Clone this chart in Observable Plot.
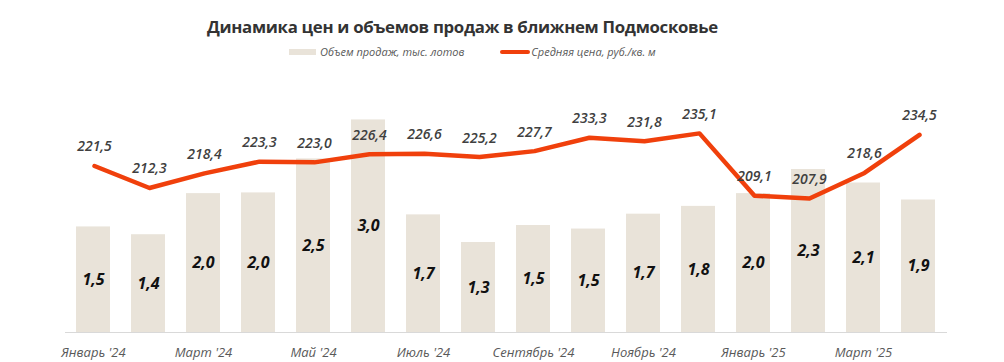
<!DOCTYPE html>
<html>
<head>
<meta charset="utf-8">
<script src="https://cdn.jsdelivr.net/npm/d3@7"></script>
<script src="https://cdn.jsdelivr.net/npm/@observablehq/plot@0.6"></script>
<style>
  html, body { margin: 0; padding: 0; background: #fff; }
  #wrap { position: relative; width: 1004px; height: 362px; font-family: "Open Sans", sans-serif; overflow: hidden; }
  #title { position: absolute; left: 0; width: 925px; top: 15px; text-align: center; font-size: 16.8px; letter-spacing: -0.3px; font-weight: 700; color: #333; white-space: nowrap; }
  #legend { position: absolute; top: 44px; left: 289px; font-size: 11px; font-style: italic; color: #595959; white-space: nowrap; display: flex; align-items: center; }
  .sw-bar { display: inline-block; width: 27px; height: 6px; background: #E9E3D9; margin-right: 4px; }
  .sw-line { display: inline-block; width: 30px; height: 4px; border-radius: 2px; background: #F0400C; margin-left: 36px; margin-right: 1px; }
  .layer { position: absolute; left: 0; top: 0; }
  .layer svg { background: transparent !important; }
  g[aria-label="x-axis tick label"] text { font-style: italic; }
</style>
</head>
<body>
<div id="wrap">
  <div id="title">Динамика цен и объемов продаж в ближнем Подмосковье</div>
  <div id="legend"><span class="sw-bar"></span><span>Объем продаж, тыс. лотов</span><span class="sw-line"></span><span>Средняя цена, руб./кв. м</span></div>
  <div id="bars" class="layer"></div>
  <div id="line" class="layer"></div>
</div>
<script>
const months = ["Январь '24", "Февраль '24", "Март '24", "Апрель '24", "Май '24", "Июнь '24", "Июль '24", "Август '24", "Сентябрь '24", "Октябрь '24", "Ноябрь '24", "Декабрь '24", "Январь '25", "Февраль '25", "Март '25", "Апрель '25"];
const tickLabels = ["Январь '24", "Март '24", "Май '24", "Июль '24", "Сентябрь '24", "Ноябрь '24", "Январь '25", "Март '25"];
const volume = [1.49, 1.38, 1.96, 1.97, 2.45, 3.0, 1.66, 1.27, 1.51, 1.46, 1.67, 1.78, 1.96, 2.30, 2.11, 1.87];
const price = [221.5, 212.3, 218.4, 223.3, 223.0, 226.4, 226.6, 225.2, 227.7, 233.3, 231.8, 235.1, 209.1, 207.9, 218.6, 234.5];

const volData = months.map((m, i) => ({ month: m, v: volume[i] }));
const priceData = months.map((m, i) => ({ month: m, p: price[i] }));
const fmt = v => (Math.round(v * 10) / 10).toFixed(1).replace(".", ",");

const common = {
  width: 1004, height: 362,
  marginLeft: 65, marginRight: 57, marginTop: 84, marginBottom: 30,
  style: { fontFamily: "Open Sans, sans-serif", background: "transparent", overflow: "visible" },
  x: { domain: months, paddingInner: 0.38, paddingOuter: 0.19, axis: null }
};

const barPlot = Plot.plot({
  ...common,
  y: { domain: [0, 3.5], axis: null },
  marks: [
    Plot.barY(volData, { x: "month", y: "v", fill: "#E9E3D9" }),
    Plot.ruleY([0], { stroke: "#D9D9D9", strokeWidth: 1.2 }),
    Plot.axisX({ ticks: tickLabels, tickSize: 0, tickPadding: 15, fontSize: 13, fill: "#595959", label: null }),
    Plot.text(volData, { x: "month", y: d => d.v / 2, text: d => fmt(d.v), fontSize: 16, fontWeight: "bold", fontStyle: "italic", fill: "#111" })
  ]
});
document.getElementById("bars").appendChild(barPlot);

const linePlot = Plot.plot({
  ...common,
  y: { domain: [152, 255.5], axis: null },
  marks: [
    Plot.line(priceData, { x: "month", y: "p", stroke: "#F0400C", strokeWidth: 4.5, strokeLinejoin: "round", strokeLinecap: "round" }),
    Plot.text(priceData, { x: "month", y: "p", text: d => fmt(d.p), dy: -19, fontSize: 14, fontWeight: 600, fontStyle: "italic", fill: "#404040" })
  ]
});
document.getElementById("line").appendChild(linePlot);
</script>
</body>
</html>
